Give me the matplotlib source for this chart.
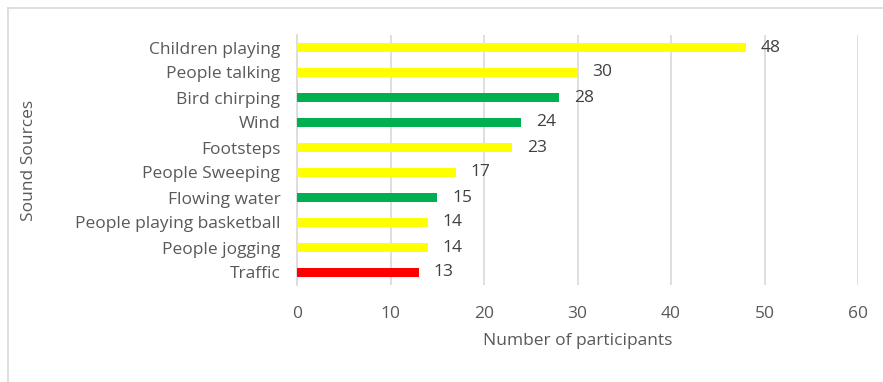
import matplotlib.pyplot as plt
from matplotlib.lines import Line2D

# Daten (von oben nach unten)
sources = ['Children playing', 'People talking', 'Bird chirping', 'Wind', 'Footsteps',
           'People Sweeping', 'Flowing water', 'People playing basketball',
           'People jogging', 'Traffic']
participants = [48, 30, 28, 24, 23, 17, 15, 14, 14, 13]
colors = ['#FFFF00', '#FFFF00', '#00B050', '#00B050', '#FFFF00',
          '#FFFF00', '#00B050', '#FFFF00', '#FFFF00', '#FF0000']

plt.rcParams['font.family'] = ['Open Sans', 'DejaVu Sans']
txt = '#595959'
fs = 12.5

fig = plt.figure(figsize=(8.83, 3.82), dpi=100)
ax = fig.add_axes([297 / 883, 1 - 285 / 382, 561 / 883, 250 / 382])

ypos = list(range(len(sources)))[::-1]
ax.barh(ypos, participants, height=0.36, color=colors, zorder=3)
for y, v in zip(ypos, participants):
    ax.text(v + 1.6, y, str(v), va='center', ha='left', fontsize=fs, color='#404040')

ax.set_xlim(0, 60)
ax.set_ylim(-0.5, len(sources) - 0.5)
ax.set_xticks(range(0, 61, 10))
ax.set_yticks(ypos)
ax.set_yticklabels(sources)
ax.tick_params(axis='both', length=0, labelsize=fs, colors=txt)
ax.tick_params(axis='x', pad=15)
ax.tick_params(axis='y', pad=12)
ax.grid(axis='x', color='#D9D9D9', linewidth=1.2, zorder=0)
for s in ['top', 'right', 'bottom']:
    ax.spines[s].set_visible(False)
ax.spines['left'].set_color('#D9D9D9')
ax.spines['left'].set_linewidth(1.2)

ax.set_xlabel('Number of participants', fontsize=fs, color=txt, labelpad=8)
fig.text(29 / 883, 1 - 160 / 382, 'Sound Sources', rotation=90, fontsize=fs,
         color=txt, ha='center', va='center')

# Rahmen (nur oben und links sichtbar)
fig.add_artist(Line2D([8 / 883, 1], [1 - 8 / 382] * 2, color='#D9D9D9', lw=1.2))
fig.add_artist(Line2D([8 / 883] * 2, [0, 1 - 8 / 382], color='#D9D9D9', lw=1.2))

fig.savefig('out.png', dpi=100)
